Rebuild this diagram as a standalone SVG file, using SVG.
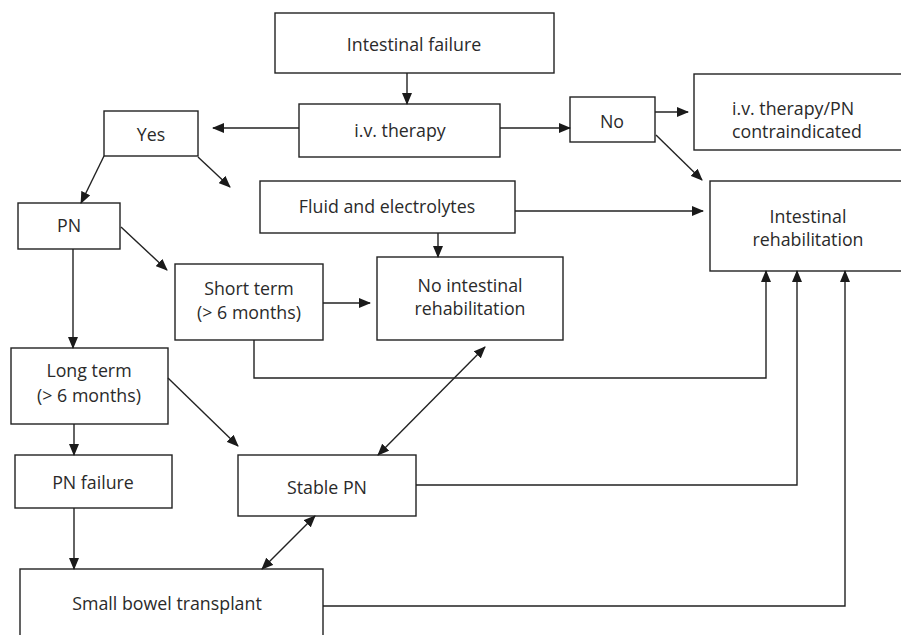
<svg xmlns="http://www.w3.org/2000/svg" width="901" height="635" viewBox="0 0 901 635">
  <style>
    .box { fill: #ffffff; stroke: #222222; stroke-width: 1.4; }
    .lbl { font-family: "Open Sans", "Noto Sans", "Liberation Sans", sans-serif; font-size: 17.8px; fill: #2a2a2a; text-anchor: middle; }
    .lbl.left { text-anchor: start; }
    .edge { fill: none; stroke: #222222; stroke-width: 1.4; }
  </style>
  <defs>
    <marker id="arrow" markerUnits="userSpaceOnUse" markerWidth="12" markerHeight="10" refX="11" refY="5" orient="auto-start-reverse" viewBox="0 0 12 10">
      <path d="M0,0 L12,5 L0,10 Z" fill="#1a1a1a"/>
    </marker>
  </defs>
  <rect width="901" height="635" fill="#ffffff"/>

  <g id="intestinal-failure">
    <rect class="box" x="275" y="13" width="279" height="60"/>
    <text class="lbl" x="414" y="51">Intestinal failure</text>
  </g>
  <g id="iv-therapy">
    <rect class="box" x="299" y="104" width="201" height="53"/>
    <text class="lbl" x="400" y="137">i.v. therapy</text>
  </g>
  <g id="yes">
    <rect class="box" x="104" y="111" width="94" height="45"/>
    <text class="lbl" x="151" y="141">Yes</text>
  </g>
  <g id="no">
    <rect class="box" x="570" y="97" width="85" height="45"/>
    <text class="lbl" x="612" y="128">No</text>
  </g>
  <g id="contraindicated">
    <rect class="box" x="694" y="74" width="215" height="76"/>
    <text class="lbl left" x="732" y="115">i.v. therapy/PN</text>
    <text class="lbl left" x="732" y="138">contraindicated</text>
  </g>
  <g id="intestinal-rehabilitation">
    <rect class="box" x="710" y="181" width="199" height="90"/>
    <text class="lbl" x="808" y="223">Intestinal</text>
    <text class="lbl" x="808" y="246">rehabilitation</text>
  </g>
  <g id="fluid-electrolytes">
    <rect class="box" x="260" y="181" width="255" height="52"/>
    <text class="lbl" x="387" y="213">Fluid and electrolytes</text>
  </g>
  <g id="pn">
    <rect class="box" x="18" y="203" width="102" height="46"/>
    <text class="lbl" x="69" y="232">PN</text>
  </g>
  <g id="short-term">
    <rect class="box" x="175" y="264" width="148" height="76"/>
    <text class="lbl" x="249" y="295">Short term</text>
    <text class="lbl" x="249" y="319">(&gt; 6 months)</text>
  </g>
  <g id="no-rehabilitation">
    <rect class="box" x="377" y="257" width="186" height="83"/>
    <text class="lbl" x="470" y="292">No intestinal</text>
    <text class="lbl" x="470" y="315">rehabilitation</text>
  </g>
  <g id="long-term">
    <rect class="box" x="11" y="348" width="157" height="76"/>
    <text class="lbl" x="89" y="377">Long term</text>
    <text class="lbl" x="89" y="402">(&gt; 6 months)</text>
  </g>
  <g id="pn-failure">
    <rect class="box" x="15" y="455" width="157" height="53"/>
    <text class="lbl" x="93" y="489">PN failure</text>
  </g>
  <g id="stable-pn">
    <rect class="box" x="238" y="455" width="178" height="61"/>
    <text class="lbl" x="327" y="494">Stable PN</text>
  </g>
  <g id="small-bowel-transplant">
    <rect class="box" x="20" y="569" width="303" height="75"/>
    <text class="lbl" x="167" y="610">Small bowel transplant</text>
  </g>

  <g id="connectors">
    <path class="edge" d="M407,73 V104" marker-end="url(#arrow)"/>
    <path class="edge" d="M299,128 H213" marker-end="url(#arrow)"/>
    <path class="edge" d="M500,128 H570" marker-end="url(#arrow)"/>
    <path class="edge" d="M655,112 H688" marker-end="url(#arrow)"/>
    <path class="edge" d="M656,135 L702,180" marker-end="url(#arrow)"/>
    <path class="edge" d="M104,156 L81,203" marker-end="url(#arrow)"/>
    <path class="edge" d="M198,157 L230,187" marker-end="url(#arrow)"/>
    <path class="edge" d="M515,211 H703" marker-end="url(#arrow)"/>
    <path class="edge" d="M438,233 V257" marker-end="url(#arrow)"/>
    <path class="edge" d="M121,227 L167,270" marker-end="url(#arrow)"/>
    <path class="edge" d="M73,249 V348" marker-end="url(#arrow)"/>
    <path class="edge" d="M323,303 H370" marker-end="url(#arrow)"/>
    <path class="edge" d="M254,340 V378 H766 V271" marker-end="url(#arrow)"/>
    <path class="edge" d="M168,378 L238,446" marker-end="url(#arrow)"/>
    <path class="edge" d="M74,424 V455" marker-end="url(#arrow)"/>
    <path class="edge" d="M378,455 L485,347" marker-start="url(#arrow)" marker-end="url(#arrow)"/>
    <path class="edge" d="M416,485 H797 V271" marker-end="url(#arrow)"/>
    <path class="edge" d="M74,508 V569" marker-end="url(#arrow)"/>
    <path class="edge" d="M315,516 L262,569" marker-start="url(#arrow)" marker-end="url(#arrow)"/>
    <path class="edge" d="M323,606 H845 V271" marker-end="url(#arrow)"/>
  </g>
</svg>
